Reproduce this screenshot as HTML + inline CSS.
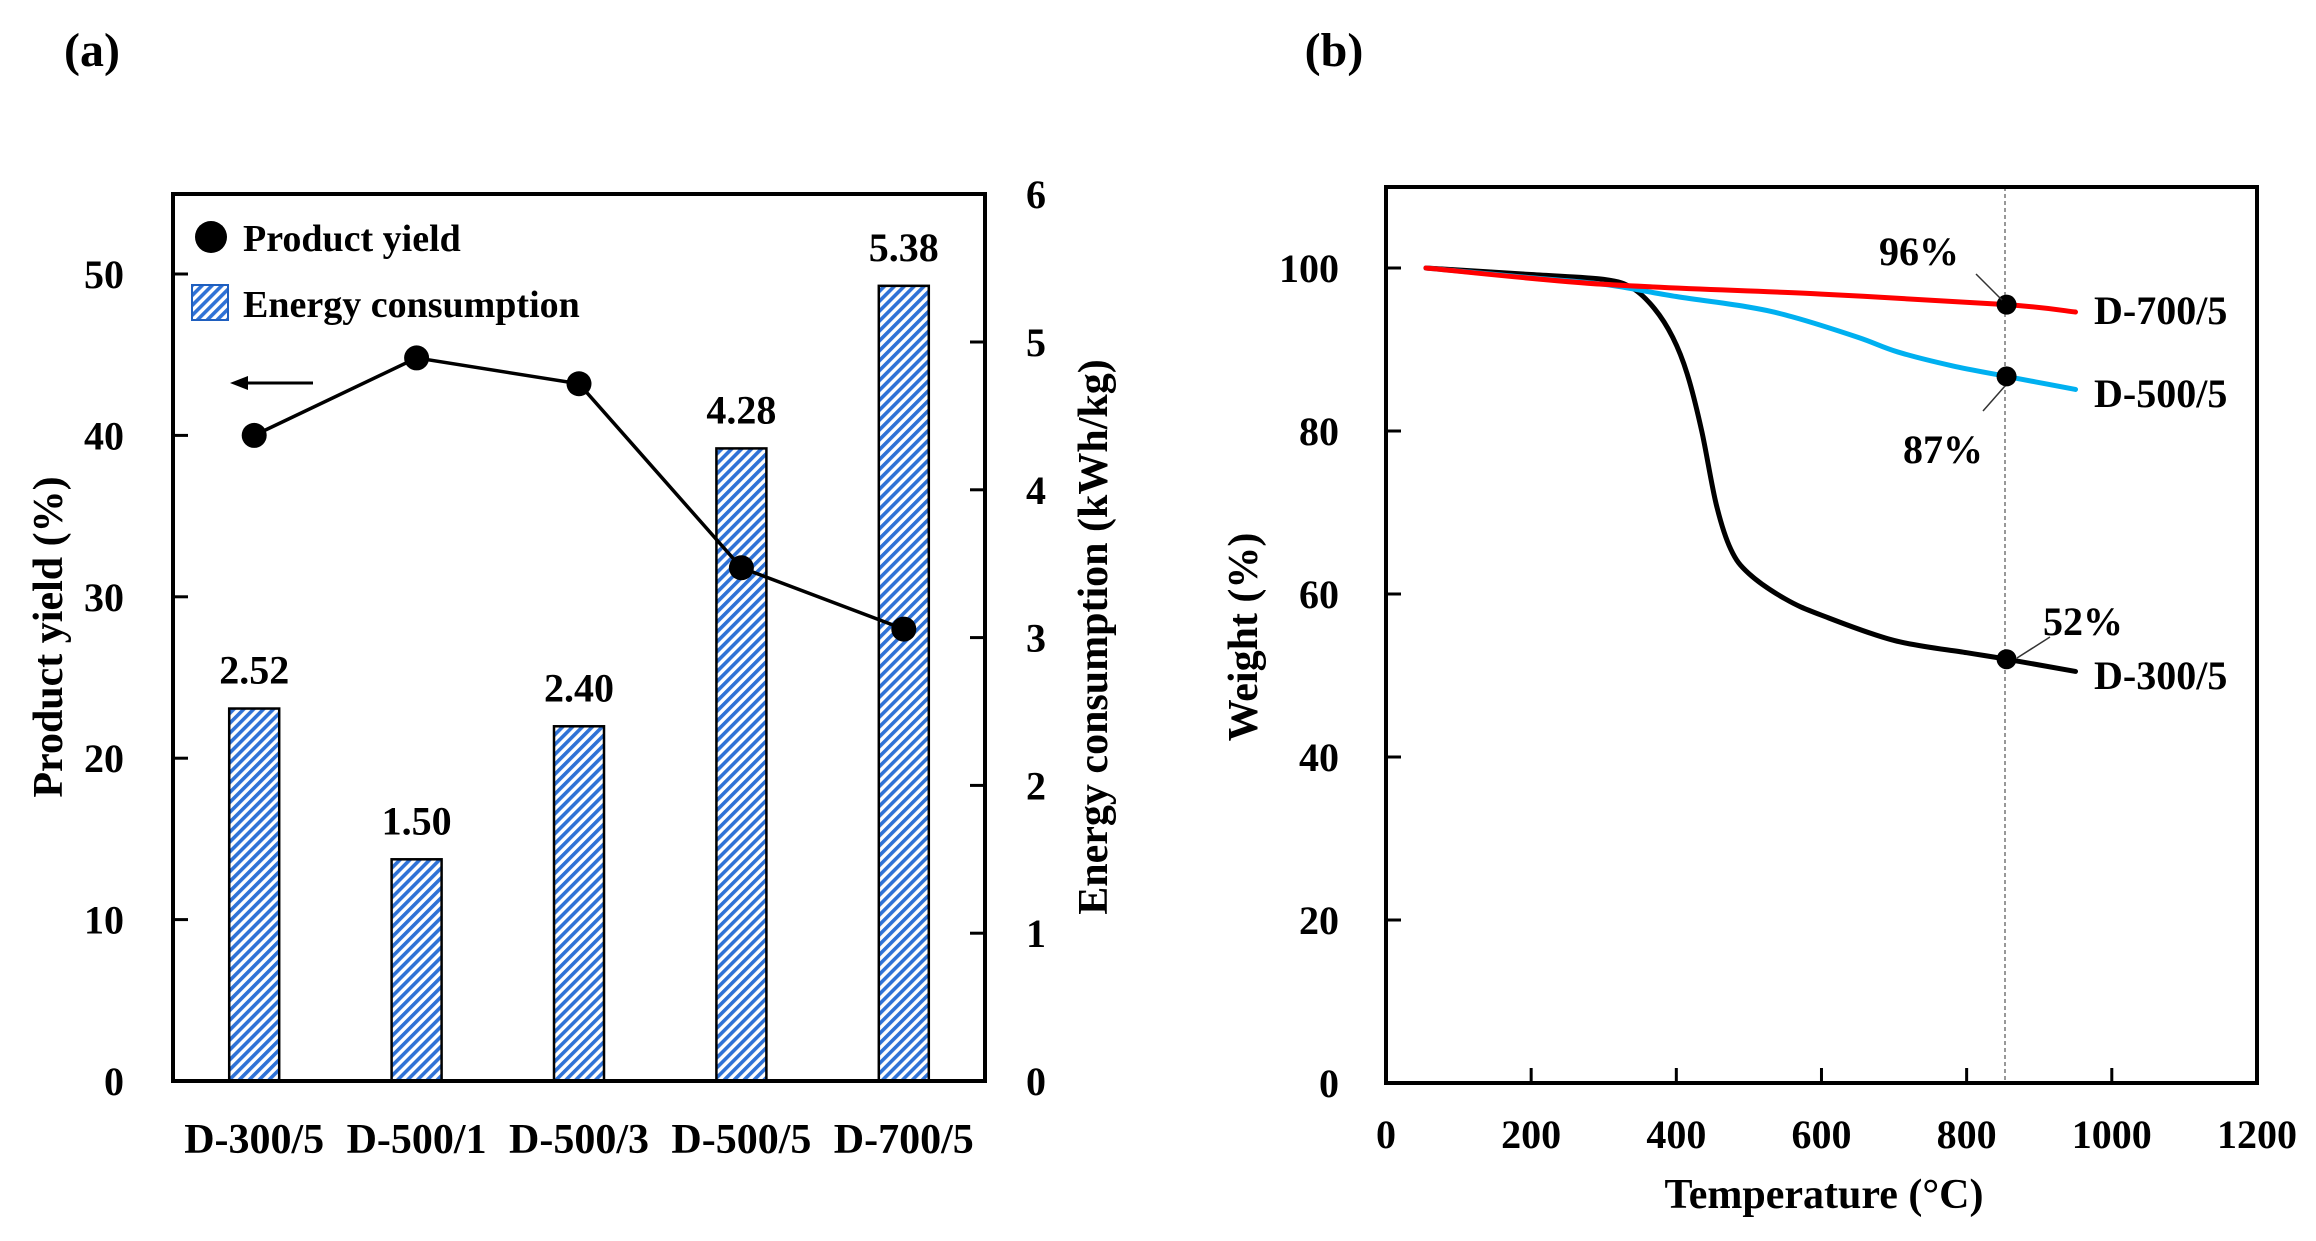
<!DOCTYPE html>
<html><head><meta charset="utf-8"><style>
html,body{margin:0;padding:0;background:#fff;}
svg{display:block;}
text{font-family:"Liberation Serif",serif;font-weight:bold;fill:#000;}
</style></head><body>
<svg id="s" width="2316" height="1241" viewBox="0 0 2316 1241" xmlns="http://www.w3.org/2000/svg">
<defs>
<pattern id="h" patternUnits="userSpaceOnUse" width="7" height="7" patternTransform="rotate(45)">
<rect width="7" height="7" fill="#fff"/><rect width="3.6" height="7" fill="#2f72d6"/>
</pattern>
</defs>
<text x="92" y="66" font-size="48" text-anchor="middle">(a)</text>
<text x="1334" y="66" font-size="48" text-anchor="middle">(b)</text>
<g id="left"></g>
<g id="right"></g>
</svg>
<script>
const NS="http://www.w3.org/2000/svg";
function el(p,t,a,txt){const e=document.createElementNS(NS,t);for(const k in a)e.setAttribute(k,a[k]);if(txt!==undefined)e.textContent=txt;p.appendChild(e);return e;}
const L=document.getElementById('left');
const x0=173,x1=985,y0=1081,y1=194;
const yl=v=>y0-v*16.14, yr=v=>y0-v*147.8;
const cats=["D-300/5","D-500/1","D-500/3","D-500/5","D-700/5"];
const en=[2.52,1.50,2.40,4.28,5.38], yi=[40,44.8,43.2,31.8,28.0];
const cx=i=>x0+81.2+162.4*i;
for(let i=0;i<5;i++){
 const t=yr(en[i]);
 el(L,'rect',{x:cx(i)-25,y:t,width:50,height:y0-t,fill:'url(#h)',stroke:'#000','stroke-width':2.5});
 el(L,'text',{x:cx(i),y:t-25,'font-size':40,'text-anchor':'middle'},en[i].toFixed(2));
 el(L,'text',{x:cx(i),y:1153,'font-size':42,'text-anchor':'middle'},cats[i]);
}
el(L,'polyline',{points:yi.map((v,i)=>cx(i)+','+yl(v)).join(' '),fill:'none',stroke:'#000','stroke-width':3.5});
yi.forEach((v,i)=>el(L,'circle',{cx:cx(i),cy:yl(v),r:12.5,fill:'#000'}));
el(L,'rect',{x:x0,y:y1,width:x1-x0,height:y0-y1,fill:'none',stroke:'#000','stroke-width':4});
for(let v=0;v<=50;v+=10){const y=yl(v);el(L,'line',{x1:x0,y1:y,x2:x0+15,y2:y,stroke:'#000','stroke-width':3});
 el(L,'text',{x:124,y:y+14,'font-size':40,'text-anchor':'end'},v);}
for(let v=0;v<=6;v++){const y=yr(v);el(L,'line',{x1:x1-15,y1:y,x2:x1,y2:y,stroke:'#000','stroke-width':3});
 el(L,'text',{x:1036,y:y+14,'font-size':40,'text-anchor':'middle'},v);}
el(L,'circle',{cx:211,cy:237,r:16,fill:'#000'});
el(L,'text',{x:243,y:251,'font-size':38},'Product yield');
el(L,'rect',{x:192,y:285,width:36,height:35,fill:'url(#h)',stroke:'#1f5fbf','stroke-width':2});
el(L,'text',{x:243,y:317,'font-size':38},'Energy consumption');
el(L,'line',{x1:313,y1:383,x2:240,y2:383,stroke:'#000','stroke-width':3});
el(L,'polygon',{points:'230,383 248,376 248,390',fill:'#000'});
el(L,'text',{transform:'translate(62,637) rotate(-90)','font-size':42,'text-anchor':'middle'},'Product yield (%)');
el(L,'text',{transform:'translate(1107,637) rotate(-90)','font-size':42,'text-anchor':'middle'},'Energy consumption (kWh/kg)');
const R=document.getElementById('right');
const X0=1386,X1=2257,Y0=1083,Y1=187;
const tx=t=>X0+t*0.7258, wy=w=>Y0-w*8.15;
function curve(pts,col){
 const P=pts.map(p=>[tx(p[0]),wy(p[1])]);
 let d='M'+P[0][0]+','+P[0][1];
 for(let i=0;i<P.length-1;i++){
  const p0=P[i-1]||P[i],p1=P[i],p2=P[i+1],p3=P[i+2]||P[i+1];
  const c1=[p1[0]+(p2[0]-p0[0])/6,p1[1]+(p2[1]-p0[1])/6];
  const c2=[p2[0]-(p3[0]-p1[0])/6,p2[1]-(p3[1]-p1[1])/6];
  d+=` C${c1[0]},${c1[1]} ${c2[0]},${c2[1]} ${p2[0]},${p2[1]}`;
 }
 el(R,'path',{d:d,fill:'none',stroke:col,'stroke-width':5,'stroke-linecap':'round'});
}
el(R,'line',{x1:2005,y1:Y1,x2:2005,y2:Y0,stroke:'#777','stroke-width':1.5,'stroke-dasharray':'4,3'});
curve([[55,100],[200,99.2],[300,98.6],[340,97.5],[370,95],[395,91.5],[415,87],[435,80],[455,71],[475,65.5],[500,62.5],[550,59.4],[600,57.4],[700,54.3],[800,52.8],[855,52],[950,50.5]],'#000');
curve([[55,100],[200,98.8],[300,98],[400,96.5],[500,95.2],[560,94],[650,91.5],[705,89.7],[780,88],[855,86.7],[950,85.1]],'#00b0f0');
curve([[55,100],[300,98],[600,96.8],[855,95.5],[950,94.6]],'#ff0000');
el(R,'circle',{cx:tx(855),cy:wy(95.5),r:10,fill:'#000'});
el(R,'circle',{cx:tx(855),cy:wy(86.7),r:10,fill:'#000'});
el(R,'circle',{cx:tx(855),cy:wy(52),r:10,fill:'#000'});
el(R,'line',{x1:1976,y1:274,x2:2002,y2:300,stroke:'#333','stroke-width':1.5});
el(R,'line',{x1:1983,y1:411,x2:2005,y2:386,stroke:'#333','stroke-width':1.5});
el(R,'line',{x1:2050,y1:637,x2:2017,y2:658,stroke:'#333','stroke-width':1.5});
el(R,'text',{x:1919,y:265,'font-size':40,'text-anchor':'middle'},'96%');
el(R,'text',{x:1943,y:463,'font-size':40,'text-anchor':'middle'},'87%');
el(R,'text',{x:2083,y:635,'font-size':40,'text-anchor':'middle'},'52%');
el(R,'text',{x:2094,y:324,'font-size':40},'D-700/5');
el(R,'text',{x:2094,y:407,'font-size':40},'D-500/5');
el(R,'text',{x:2094,y:689,'font-size':40},'D-300/5');
el(R,'rect',{x:X0,y:Y1,width:X1-X0,height:Y0-Y1,fill:'none',stroke:'#000','stroke-width':4});
for(let v=0;v<=100;v+=20){const y=wy(v);el(R,'line',{x1:X0,y1:y,x2:X0+15,y2:y,stroke:'#000','stroke-width':3});
 el(R,'text',{x:1339,y:y+14,'font-size':40,'text-anchor':'end'},v);}
for(let t=0;t<=1200;t+=200){const x=tx(t);el(R,'line',{x1:x,y1:Y0-15,x2:x,y2:Y0,stroke:'#000','stroke-width':3});
 el(R,'text',{x:x,y:1148,'font-size':40,'text-anchor':'middle'},t);}
el(R,'text',{x:1824,y:1208,'font-size':42,'text-anchor':'middle'},'Temperature (°C)');
el(R,'text',{transform:'translate(1257,637) rotate(-90)','font-size':42,'text-anchor':'middle'},'Weight (%)');
</script>
</body></html>
